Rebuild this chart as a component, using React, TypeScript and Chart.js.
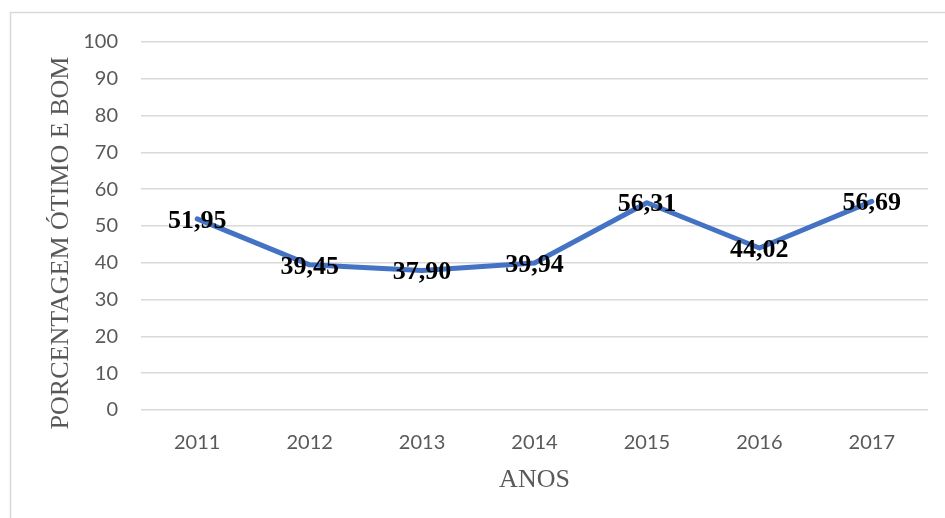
import React, { useEffect, useRef } from "react";
import { Chart, registerables } from "chart.js";

Chart.register(...registerables);

const years = ["2011", "2012", "2013", "2014", "2015", "2016", "2017"];
const percentages = [51.95, 39.45, 37.9, 39.94, 56.31, 44.02, 56.69];
const yTitle = "PORCENTAGEM ÓTIMO E BOM";
const xTitle = "ANOS";

const fmt = (v: number) => v.toFixed(2).replace(".", ",");

const decorPlugin = {
  id: "decor",
  beforeDraw(chart: any) {
    const ctx = chart.ctx;
    ctx.save();
    ctx.strokeStyle = "#d9d9d9";
    ctx.lineWidth = 1.5;
    ctx.beginPath();
    ctx.moveTo(10.5, 518);
    ctx.lineTo(10.5, 12.5);
    ctx.lineTo(945, 12.5);
    ctx.stroke();
    ctx.restore();
  },
  afterDraw(chart: any) {
    const ctx = chart.ctx;
    const area = chart.chartArea;
    ctx.save();
    ctx.fillStyle = "#595959";
    ctx.font = "26px 'Liberation Serif', 'Times New Roman', serif";
    ctx.textAlign = "center";
    ctx.textBaseline = "alphabetic";
    ctx.fillText(xTitle, (area.left + area.right) / 2, 487);
    ctx.translate(68, (area.top + area.bottom) / 2 + 17);
    ctx.rotate(-Math.PI / 2);
    ctx.fillText(yTitle, 0, 0);
    ctx.restore();
  },
};

const labelPlugin = {
  id: "pointLabels",
  afterDatasetsDraw(chart: any) {
    const ctx = chart.ctx;
    const meta = chart.getDatasetMeta(0);
    const data = chart.data.datasets[0].data as number[];
    ctx.save();
    ctx.fillStyle = "#000000";
    ctx.font = "bold 26px 'Liberation Serif', 'Times New Roman', serif";
    ctx.textAlign = "center";
    ctx.textBaseline = "middle";
    meta.data.forEach((pt: any, i: number) => {
      ctx.fillText(fmt(data[i]), pt.x, pt.y + 2);
    });
    ctx.restore();
  },
};

export default function App() {
  const ref = useRef<HTMLCanvasElement | null>(null);

  useEffect(() => {
    if (!ref.current) return;
    const chart = new Chart(ref.current, {
      type: "line",
      data: {
        labels: years,
        datasets: [
          {
            data: percentages,
            borderColor: "#4472C4",
            backgroundColor: "#4472C4",
            borderWidth: 5,
            pointRadius: 0,
            tension: 0,
            borderCapStyle: "round",
            borderJoinStyle: "round",
          },
        ],
      },
      options: {
        animation: false,
        responsive: false,
        maintainAspectRatio: false,
        layout: { padding: { left: 0, top: 42, right: 17, bottom: 0 } },
        plugins: {
          legend: { display: false },
          tooltip: { enabled: false },
        },
        scales: {
          x: {
            offset: true,
            grid: { display: false, drawTicks: false },
            border: { display: false },
            ticks: {
              color: "#595959",
              font: { family: "Lato", size: 20 },
              padding: 21,
              maxRotation: 0,
            },
            afterFit: (scale: any) => {
              scale.height = 108;
            },
          },
          y: {
            min: 0,
            max: 100,
            grid: { color: "#d9d9d9", lineWidth: 1.5, drawTicks: false },
            border: { display: false },
            ticks: {
              stepSize: 10,
              color: "#595959",
              font: { family: "Lato", size: 20 },
              padding: 23,
            },
            afterFit: (scale: any) => {
              scale.width = 141;
            },
          },
        },
      },
      plugins: [decorPlugin, labelPlugin],
    });
    return () => chart.destroy();
  }, []);

  return (
    <div style={{ position: "absolute", left: 0, top: 0, width: 945, height: 518, background: "#ffffff" }}>
      <canvas ref={ref} width={945} height={518} style={{ display: "block", width: 945, height: 518 }} />
    </div>
  );
}
